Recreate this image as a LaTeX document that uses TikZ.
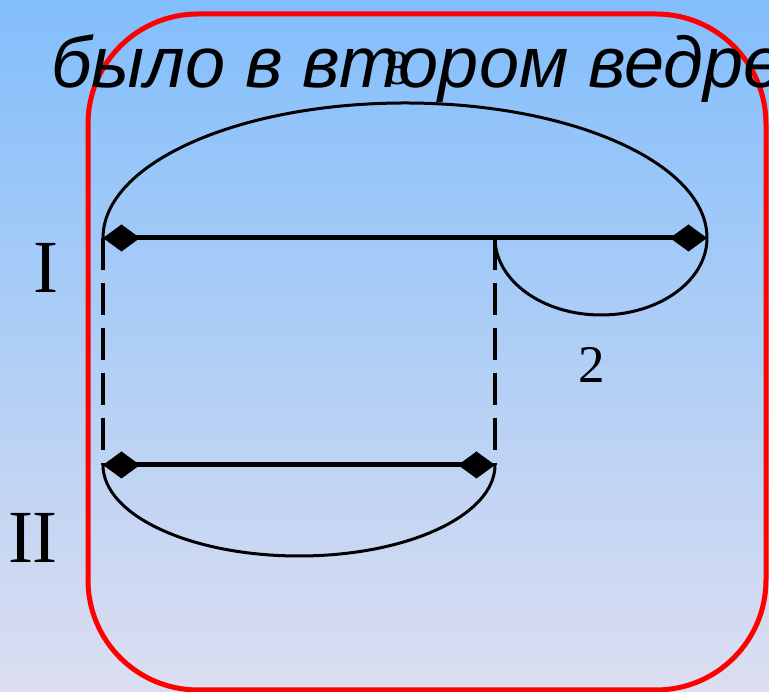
\documentclass[tikz,border=0pt]{standalone}
\usepackage{fontspec}
\setmainfont{Liberation Serif}
\newfontfamily\titlefont{Liberation Sans}
\usetikzlibrary{arrows.meta}
\definecolor{bgtop}{RGB}{130,190,252}
\definecolor{bgbot}{RGB}{220,222,240}
\definecolor{framered}{RGB}{255,0,0}
\tikzset{
  seg/.style={line width=5pt, {Diamond[length=37pt,width=27pt]}-{Diamond[length=37pt,width=27pt]}},
  brace/.style={line width=3pt},
  guide/.style={line width=3.2pt, dash pattern=on 32pt off 13pt},
  roman/.style={inner sep=0pt, font=\fontsize{75}{75}\selectfont},
  numlbl/.style={inner sep=0pt},
}
\begin{document}
\begin{tikzpicture}[x=1pt,y=1pt]
\useasboundingbox (0,0) rectangle (769,692);
\shade[top color=bgtop, bottom color=bgbot] (0,0) rectangle (769,692);
% frame
\draw[framered, line width=5pt, rounded corners=110pt] (88,678) rectangle (766,2);
% title
\node[anchor=base west, inner sep=0pt, font=\titlefont\itshape\fontsize{72}{72}\selectfont] (title) at (51,604) {было в втором ведре};
% points
\coordinate (A) at (103,454);
\coordinate (B) at (707,454);
\coordinate (C) at (495,454);
\coordinate (D) at (103,227);
\coordinate (E) at (495,227);
% dashed guides
\draw[guide] (A) -- (D);
\draw[guide] (C) -- (E);
% segments
\draw[seg] (A) -- (B);
\draw[seg] (D) -- (E);
% braces
\draw[brace] (A) arc[start angle=180, end angle=0, x radius=302pt, y radius=135pt];
\draw[brace] (C) arc[start angle=180, end angle=360, x radius=106pt, y radius=77pt];
\draw[brace] (D) arc[start angle=180, end angle=360, x radius=196pt, y radius=91pt];
% labels
\node[numlbl, anchor=base, font=\fontsize{49}{49}\selectfont] (eight) at (398,607) {8};
\node[numlbl, anchor=base, font=\fontsize{53}{53}\selectfont] (two) at (592,309) {2};
\node[roman, anchor=base] (one) at (46,399) {I};
\node[roman, anchor=base] (two2) at (33,129) {II};
\end{tikzpicture}
\end{document}
